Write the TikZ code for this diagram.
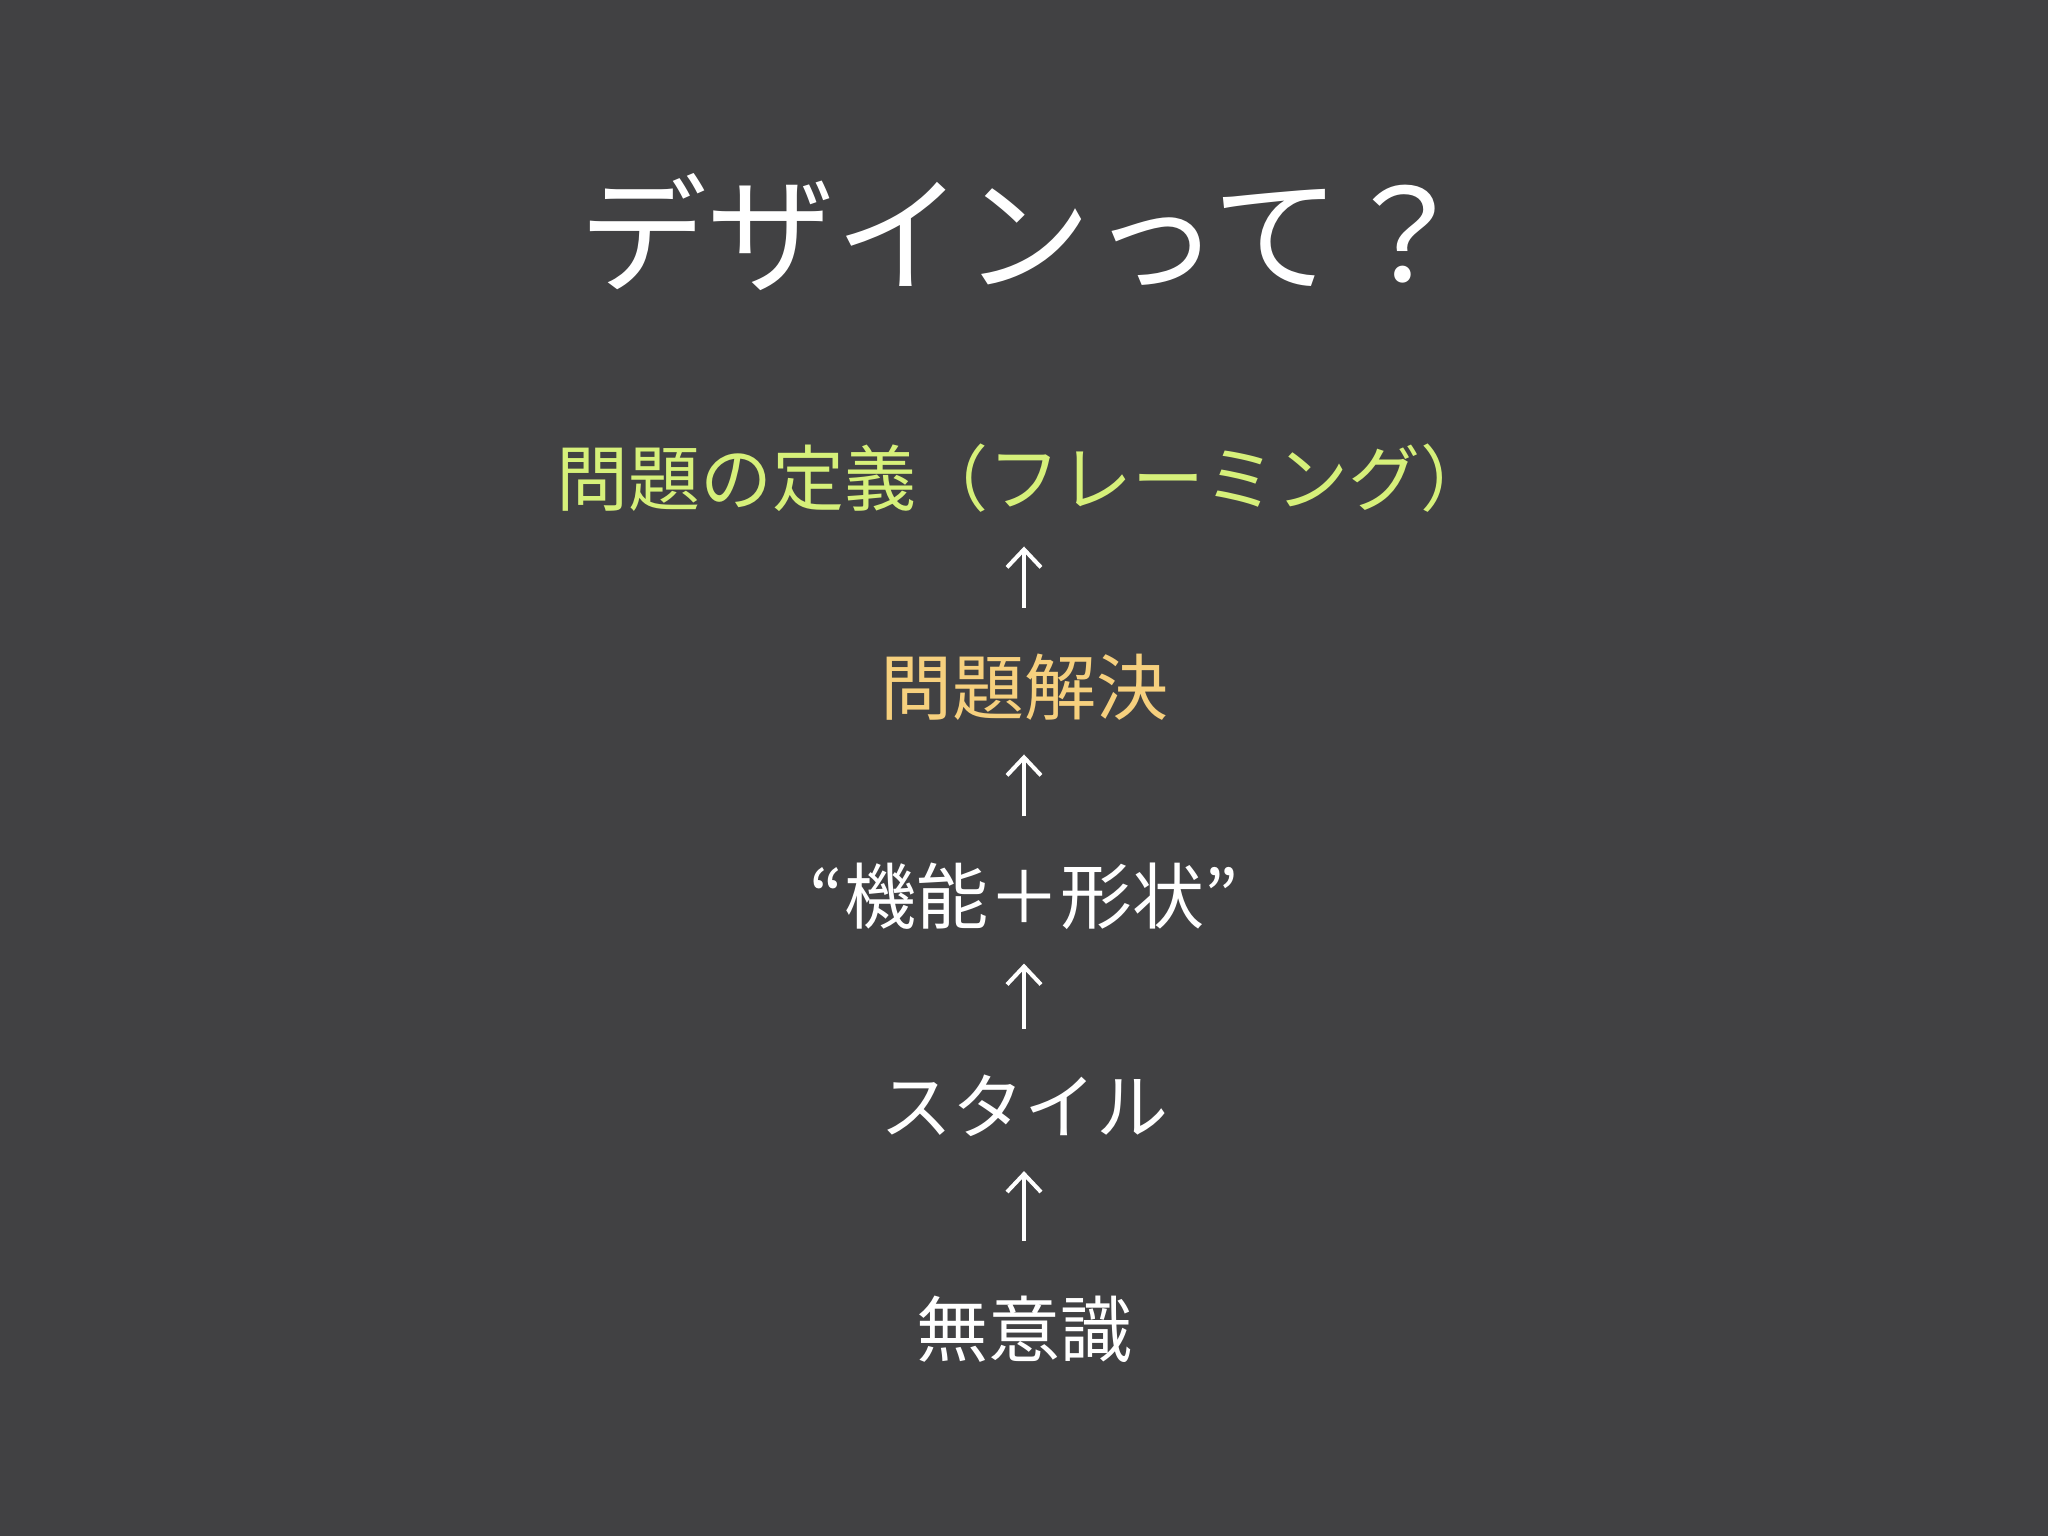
\documentclass[tikz,border=0pt]{standalone}
\usepackage{fontspec}
\setmainfont{Noto Sans CJK JP}
\usetikzlibrary{arrows.meta}
\definecolor{slidebg}{RGB}{65,65,67}
\definecolor{framegreen}{RGB}{214,240,122}
\definecolor{solveorange}{RGB}{246,208,126}
\tikzset{
  word/.style={inner sep=0pt, text=white, font=\fontsize{72}{80}\selectfont},
  up/.style={draw=white, line width=4pt, -{Straight Barb[length=18pt,width=34pt]},
    shorten <=46pt, shorten >=34pt}
}
\begin{document}
\begin{tikzpicture}[x=1pt,y=-1pt]
\fill[slidebg] (0,0) rectangle (2048,1536);
% title
\node[word, font=\fontsize{128}{140}\selectfont] (title) at (1024,232) {デザインって？};
% levels, top to bottom
\node[word, text=framegreen] (framing) at (1024,478) {問題の定義（フレーミング）};
\node[word, text=solveorange] (solving) at (1024,687) {問題解決};
\node[word] (form) at (1024,896) {“機能＋形状”};
\node[word] (style) at (1024,1106) {スタイル};
\node[word] (unconscious) at (1024,1329) {無意識};
% arrows
\draw[up] (solving.north) -- (framing.south);
\draw[up] (form.north) -- (solving.south);
\draw[up] (style.north) -- (form.south);
\draw[up, shorten <=55pt] (unconscious.north) -- (style.south);
\end{tikzpicture}
\end{document}
